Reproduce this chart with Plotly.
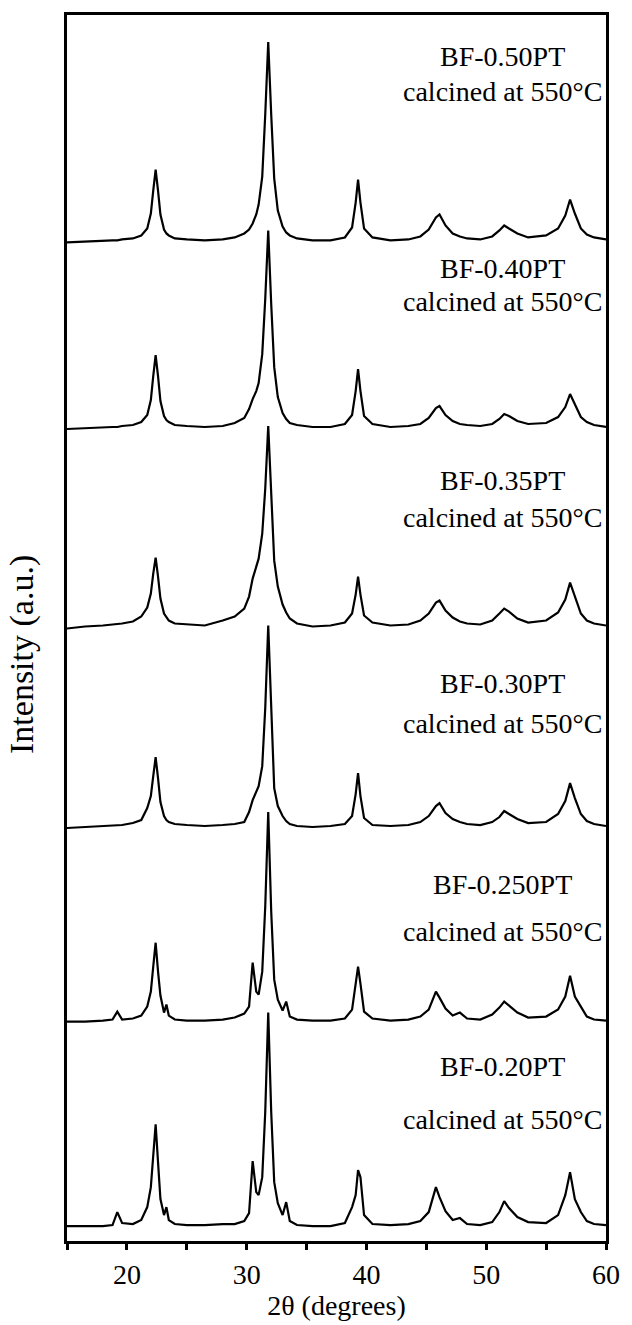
import plotly.graph_objects as go

# ---- data ----
two_theta = [15.0, 16.5, 18.0, 18.8, 19.2, 19.6, 20.5, 21.2, 21.7, 22.0, 22.2, 22.4, 22.6, 22.8,
             23.1, 23.3, 23.5, 24.0, 25.0, 26.5, 28.0, 29.0, 29.8, 30.2, 30.5, 30.8, 31.0, 31.3,
             31.55, 31.8, 32.05, 32.3, 32.6, 33.0, 33.3, 33.6, 34.2, 35.5, 37.0, 38.2, 38.8, 39.1,
             39.3, 39.5, 39.8, 40.5, 42.0, 43.5, 44.5, 45.2, 45.8, 46.1, 46.6, 47.2, 47.8, 48.4,
             49.5, 50.5, 51.1, 51.5, 51.9, 52.6, 53.5, 55.0, 56.0, 56.6, 57.0, 57.4, 57.9, 58.4,
             59.0, 60.0]

i_050 = [0, 1, 2, 2, 2, 3, 4, 7, 14, 29, 52, 73, 52, 28,
         13, 9, 7, 4, 3, 2, 3, 5, 9, 13, 19, 28, 38, 66,
         128, 201, 128, 64, 32, 16, 10, 7, 4, 2, 2, 5, 15, 40,
         63, 40, 14, 5, 2, 3, 6, 13, 25, 28, 17, 9, 6, 4,
         3, 6, 12, 17, 14, 9, 5, 7, 14, 27, 43, 29, 14, 8,
         5, 3]
i_040 = [0, 1, 2, 2, 2, 3, 4, 7, 14, 29, 53, 74, 53, 28,
         13, 9, 7, 4, 3, 2, 3, 6, 11, 20, 30, 38, 46, 75,
         130, 199, 125, 62, 32, 16, 10, 6, 4, 2, 2, 5, 14, 38,
         60, 38, 13, 5, 2, 3, 5, 11, 21, 23, 14, 8, 5, 4,
         3, 5, 10, 15, 13, 8, 5, 6, 12, 22, 35, 24, 12, 7,
         4, 2]
i_035 = [0, 2, 3, 4, 4, 5, 7, 12, 21, 35, 55, 71, 52, 30,
         15, 11, 8, 5, 4, 3, 8, 12, 20, 32, 50, 62, 70, 95,
         140, 203, 130, 68, 42, 24, 16, 10, 5, 2, 3, 6, 15, 34,
         52, 34, 13, 6, 3, 4, 8, 15, 26, 28, 18, 11, 7, 5,
         4, 8, 15, 20, 17, 10, 6, 8, 16, 29, 46, 32, 15, 8,
         5, 3]
i_030 = [0, 1, 2, 2, 3, 3, 5, 8, 20, 32, 52, 71, 50, 26,
         12, 8, 6, 4, 3, 2, 3, 4, 6, 16, 28, 37, 42, 62,
         120, 203, 115, 40, 22, 12, 7, 4, 2, 1, 2, 4, 12, 34,
         55, 32, 10, 3, 2, 3, 6, 12, 22, 25, 15, 9, 6, 4,
         3, 6, 11, 17, 14, 9, 5, 6, 14, 27, 45, 30, 14, 7,
         4, 2]
i_025 = [0, 0, 1, 2, 10, 2, 3, 6, 15, 30, 55, 79, 50, 26,
         9, 17, 6, 2, 1, 1, 2, 4, 8, 15, 59, 30, 27, 50,
         115, 210, 110, 42, 22, 11, 20, 5, 2, 1, 1, 3, 12, 35,
         55, 38, 10, 3, 1, 2, 5, 12, 30, 24, 13, 6, 9, 3,
         2, 7, 14, 20, 16, 9, 4, 5, 12, 25, 46, 25, 15, 5,
         2, 1]
i_020 = [1, 1, 1, 2, 15, 4, 3, 7, 20, 40, 75, 103, 65, 28,
         12, 20, 7, 3, 2, 2, 3, 3, 6, 14, 66, 35, 32, 50,
         115, 215, 115, 45, 24, 12, 25, 6, 2, 1, 1, 4, 20, 32,
         57, 50, 12, 3, 2, 3, 6, 15, 40, 30, 16, 7, 9, 3,
         2, 5, 15, 26, 19, 10, 5, 4, 12, 32, 55, 28, 15, 6,
         3, 2]

patterns = [i_050, i_040, i_035, i_030, i_025, i_020]
offsets = [1001, 814, 614, 414, 220, 14]
sample_names = ["BF-0.50PT", "BF-0.40PT", "BF-0.35PT", "BF-0.30PT", "BF-0.250PT", "BF-0.20PT"]
condition = "calcined at 550°C"
name_y = [1187, 975, 762, 559, 357, 175]
cond_y = [1152, 942, 725, 519, 310, 122]
label_x = 51.4

x_ticks = [20, 30, 40, 50, 60]
x_range = [15, 60]
y_range = [0, 1229]

FONT = "Liberation Serif"

fig = go.Figure()
for ys, off, nm in zip(patterns, offsets, sample_names):
    fig.add_trace(go.Scatter(
        x=two_theta, y=[v + off for v in ys], mode="lines", name=nm,
        line=dict(color="black", width=2.2), showlegend=False))

for nm, ny, cy in zip(sample_names, name_y, cond_y):
    fig.add_annotation(x=label_x, y=ny, xref="x", yref="y", text=nm, showarrow=False,
                       xanchor="center", yanchor="middle",
                       font=dict(family=FONT, size=28, color="black"))
    fig.add_annotation(x=label_x, y=cy, xref="x", yref="y", text=condition, showarrow=False,
                       xanchor="center", yanchor="middle",
                       font=dict(family=FONT, size=28, color="black"))

# y-axis title placed as a rotated annotation
fig.add_annotation(x=0, y=0.478, xref="paper", yref="paper", xshift=-45,
                   text="Intensity (a.u.)", textangle=-90, showarrow=False,
                   xanchor="center", yanchor="middle",
                   font=dict(family=FONT, size=34, color="black"))

fig.update_layout(
    width=632, height=1325,
    margin=dict(l=67, r=20, t=13, b=83),
    plot_bgcolor="white", paper_bgcolor="white",
    font=dict(family=FONT, color="black"),
)
fig.update_xaxes(
    range=x_range, tickvals=x_ticks, ticks="outside", ticklen=6, tickwidth=2.5,
    tickcolor="black", showline=True, linewidth=3, linecolor="black", mirror=True,
    showgrid=False, zeroline=False, tickfont=dict(family=FONT, size=28),
    minor=dict(dtick=5, tick0=15, ticks="outside", ticklen=6, tickwidth=2.5, tickcolor="black"),
    title=dict(text="2θ (degrees)", font=dict(family=FONT, size=28), standoff=4),
)
fig.update_yaxes(
    range=y_range, showticklabels=False, ticks="", showline=True, linewidth=3,
    linecolor="black", mirror=True, showgrid=False, zeroline=False,
)

fig.write_html("out.html")
